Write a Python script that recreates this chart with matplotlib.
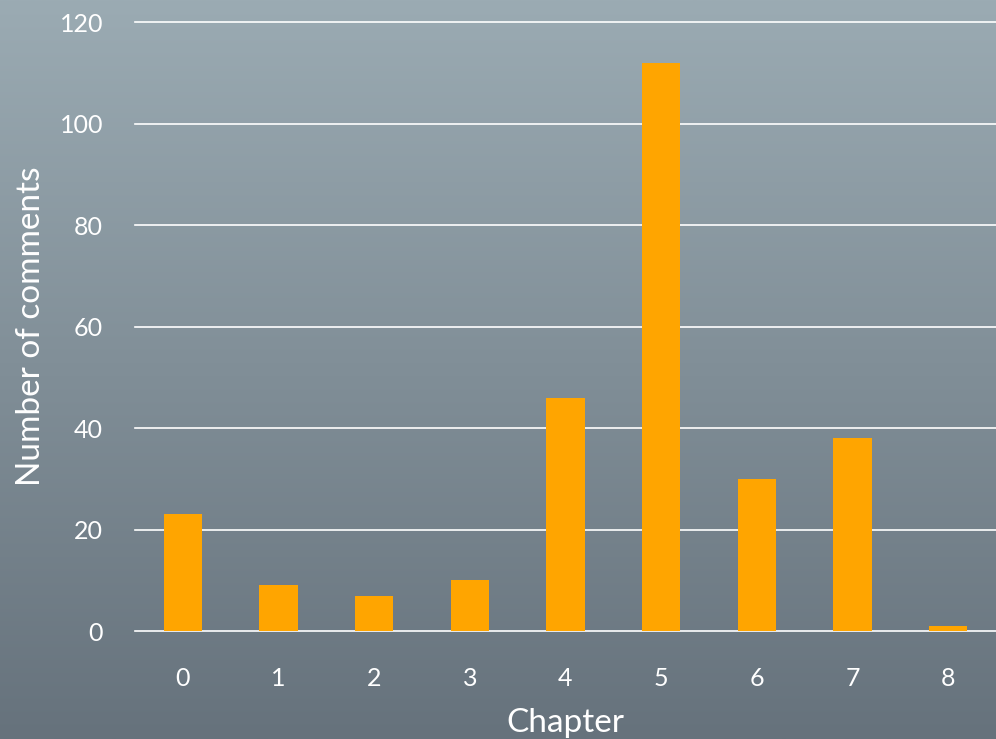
import numpy as np
import matplotlib
matplotlib.use('Agg')
import matplotlib.pyplot as plt
from matplotlib.colors import LinearSegmentedColormap

chapters = ['0', '1', '2', '3', '4', '5', '6', '7', '8']
comments = [23, 9, 7, 10, 46, 112, 30, 38, 1]
yticks = [0, 20, 40, 60, 80, 100, 120]

plt.rcParams['font.family'] = ['Lato', 'DejaVu Sans']

fig = plt.figure(figsize=(9.96, 7.39), dpi=100)

# gradient background
bg = fig.add_axes([0, 0, 1, 1], zorder=-1)
cmap = LinearSegmentedColormap.from_list('bg', ['#66727c', '#9babb3'])
grad = np.linspace(0, 1, 256).reshape(-1, 1)
bg.imshow(grad, aspect='auto', cmap=cmap, origin='lower', extent=[0, 1, 0, 1])
bg.axis('off')

ax = fig.add_axes([0.1355, 0.1461, 0.8645, 0.8241])
ax.set_facecolor('none')
x = np.arange(len(chapters))
ax.bar(x, comments, width=0.4, color='#ffa500', zorder=3)

ax.set_xlim(-0.5, 8.5)
ax.set_ylim(0, 120)
ax.set_yticks(yticks)
ax.set_xticks(x)
ax.set_xticklabels(chapters)
for y in yticks:
    ax.axhline(y, color='white', linewidth=1.2, zorder=2, clip_on=False)

for s in ax.spines.values():
    s.set_visible(False)
ax.tick_params(axis='both', length=0, colors='white', labelsize=18)
ax.tick_params(axis='y', pad=23)
ax.tick_params(axis='x', pad=26)

ax.set_xlabel('Chapter', color='white', fontsize=24, labelpad=13)
ax.set_ylabel('Number of comments', color='white', fontsize=24, labelpad=10)

fig.savefig('out.png', dpi=100)
